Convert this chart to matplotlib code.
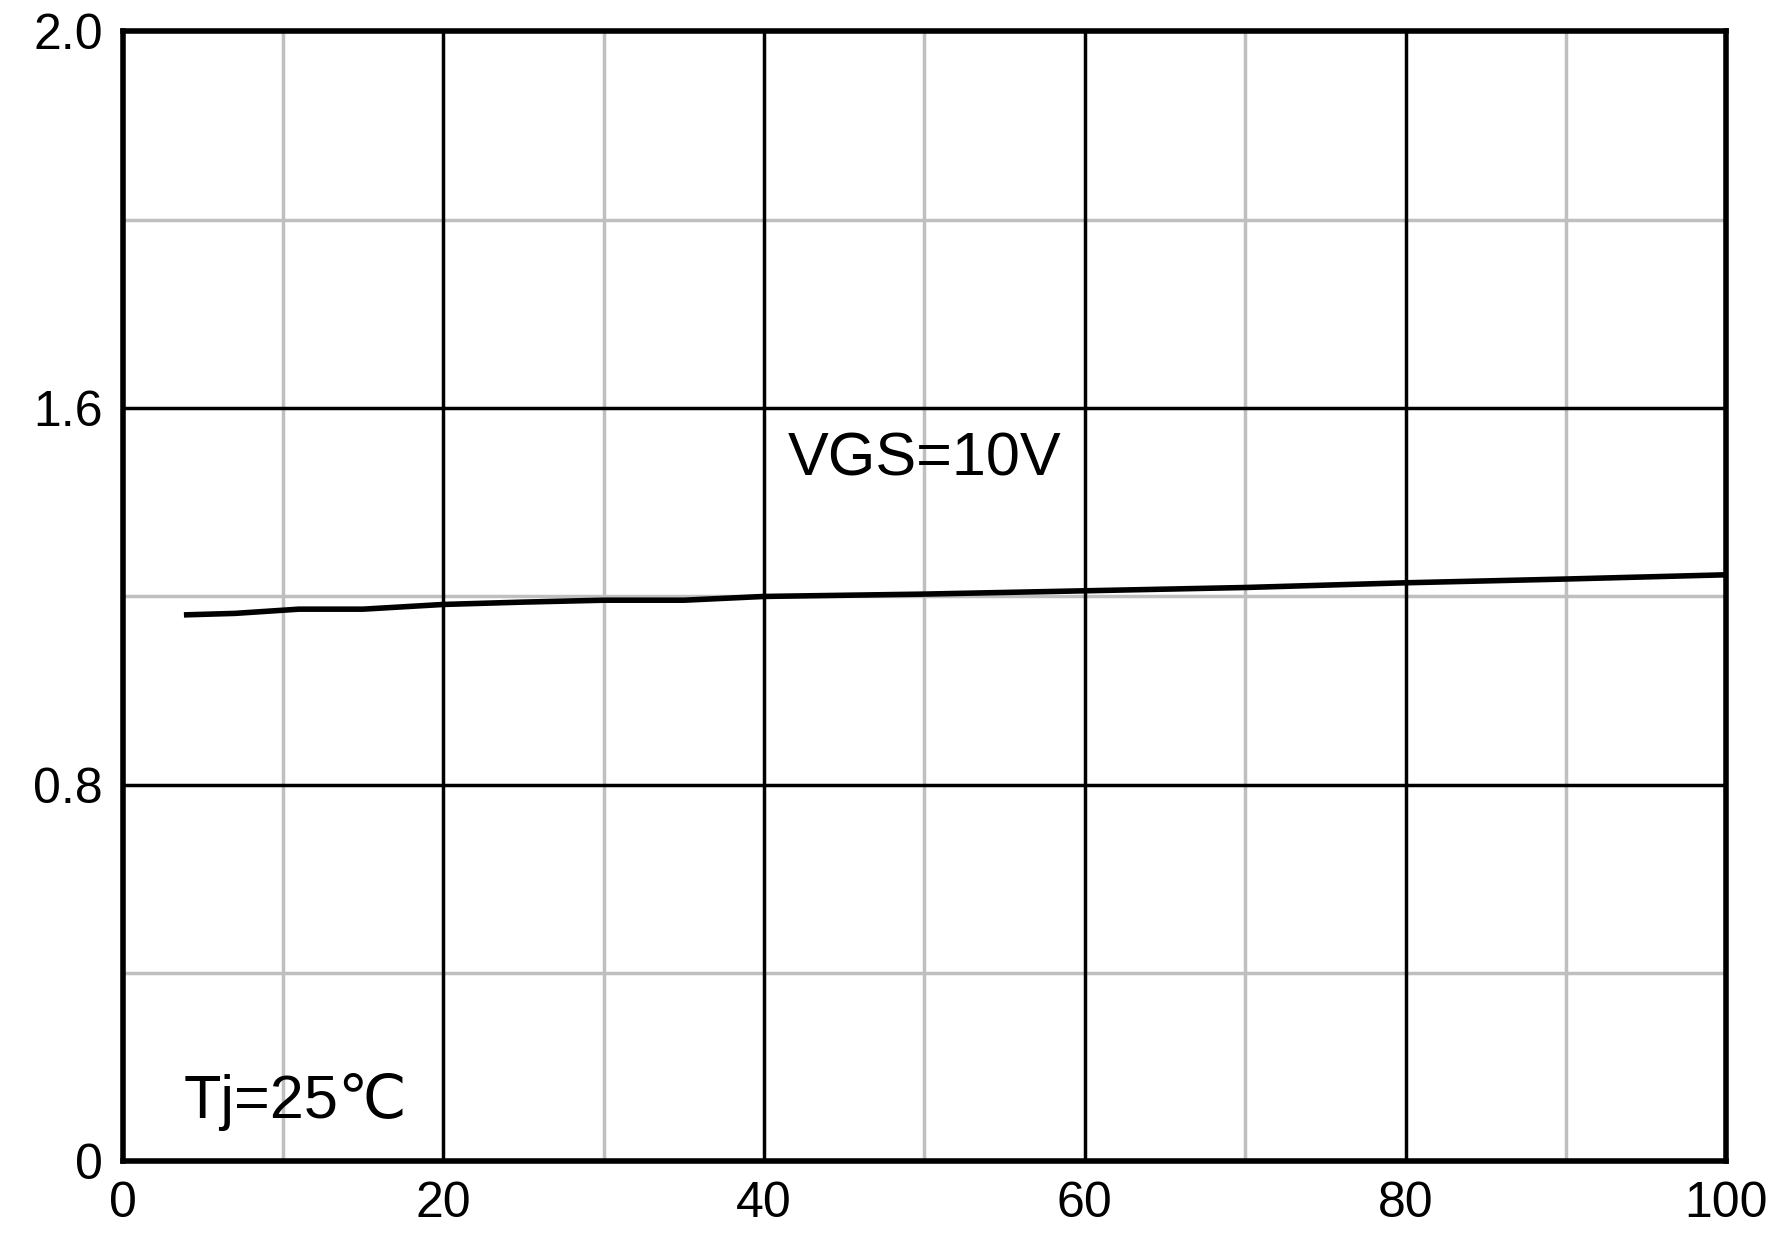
import matplotlib
matplotlib.use("Agg")
import matplotlib.pyplot as plt

plt.rcParams['font.family'] = ['Liberation Sans', 'DejaVu Sans']

x_vals = [4, 7, 11, 15, 20, 25, 30, 35, 40, 50, 60, 70, 80, 90, 100]
y_vals = [1.161, 1.164, 1.173, 1.173, 1.183, 1.188, 1.192, 1.192, 1.200, 1.205, 1.212, 1.219, 1.229, 1.237, 1.246]
x_ticks = [0, 20, 40, 60, 80, 100]
y_ticks = [0, 0.8, 1.6, 2.4]
y_labels = ["0", "0.8", "1.6", "2.0"]

fig = plt.figure(figsize=(17.76, 12.57), dpi=100)
ax = fig.add_axes([0.069, 0.076, 0.903, 0.899])
ax.set_xlim(0, 100)
ax.set_ylim(0, 2.4)
for xv in [10, 30, 50, 70, 90]:
    ax.axvline(xv, color="#bfbfbf", lw=2.5, zorder=1)
for yv in [0.4, 1.2, 2.0]:
    ax.axhline(yv, color="#bfbfbf", lw=2.5, zorder=1)
for xv in [20, 40, 60, 80]:
    ax.axvline(xv, color="black", lw=2.5, zorder=2)
for yv in [0.8, 1.6]:
    ax.axhline(yv, color="black", lw=2.5, zorder=2)
ax.plot(x_vals, y_vals, color="black", lw=4, zorder=3)
ax.set_xticks(x_ticks)
ax.set_xticklabels([str(v) for v in x_ticks])
ax.set_yticks(y_ticks)
ax.set_yticklabels(y_labels)
ax.tick_params(length=0, labelsize=36, pad=14)
for s in ax.spines.values():
    s.set_linewidth(4)
ax.text(41.5, 1.49, "VGS=10V", fontsize=44, va="center")
ax.text(3.8, 0.126, "Tj=25\u2103", fontsize=44, va="center",
        family=['Liberation Sans', 'DejaVu Sans'])
fig.savefig("out.png")
